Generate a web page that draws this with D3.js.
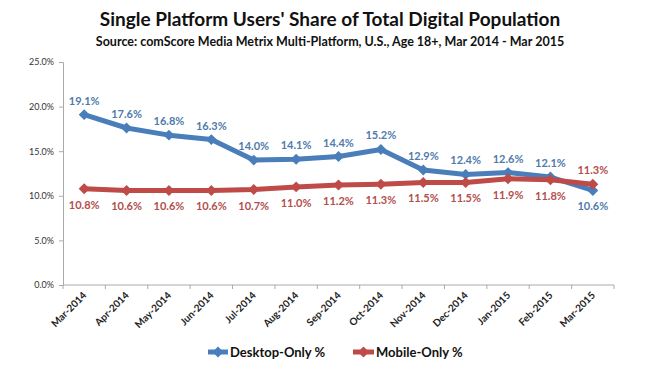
<!DOCTYPE html>
<html><head><meta charset="utf-8">
<script src="https://cdn.jsdelivr.net/npm/d3@7"></script>
<style>body{margin:0;background:#fff;} svg{display:block;font-family:Lato, "Open Sans", sans-serif;}</style>
</head><body>
<svg id="c" width="655" height="368"></svg>
<script>
const months = ["Mar-2014","Apr-2014","May-2014","Jun-2014","Jul-2014","Aug-2014","Sep-2014","Oct-2014","Nov-2014","Dec-2014","Jan-2015","Feb-2015","Mar-2015"];
const desktopOnly = [19.1,17.6,16.8,16.3,14.0,14.1,14.4,15.2,12.9,12.4,12.6,12.1,10.6];
const mobileOnly = [10.8,10.6,10.6,10.6,10.7,11.0,11.2,11.3,11.5,11.5,11.9,11.8,11.3];
const yTicks = [0,5,10,15,20,25];
const seriesNames = ["Desktop-Only %","Mobile-Only %"];
const titleText = "Single Platform Users' Share of Total Digital Population";
const subtitleText = "Source: comScore Media Metrix Multi-Platform, U.S., Age 18+, Mar 2014 - Mar 2015";

const svg = d3.select("#c");
const x = d3.scaleBand().domain(months).range([63, 614]).padding(0);
const y = d3.scaleLinear().domain([0,25]).range([285, 62]);
const colors = ["#4a7ebb","#be4b48"];
const labelColors = ["#4f7bab","#b24f4c"];

svg.append("text").attr("x",330).attr("y",26).attr("text-anchor","middle")
  .attr("font-size",19).attr("font-weight",700).attr("fill","#111").text(titleText);
svg.append("text").attr("x",330).attr("y",46).attr("text-anchor","middle")
  .attr("font-size",12.5).attr("font-weight",700).attr("fill","#111").text(subtitleText);

// y axis
const ya = svg.append("g").attr("transform","translate(63,0)")
  .call(d3.axisLeft(y).tickValues(yTicks).tickSize(4).tickFormat(d=>d.toFixed(1)+"%"));
ya.select(".domain").attr("stroke","#aaa");
ya.selectAll(".tick line").attr("stroke","#aaa");
ya.selectAll(".tick text").attr("font-size",9).attr("fill","#333").attr("font-family","Lato, sans-serif").attr("x",-9);

// x axis
const xa = svg.append("g").attr("transform","translate(0,285)");
xa.append("line").attr("x1",63).attr("x2",614).attr("stroke","#aaa");
const bounds = months.map(m=>x(m)).concat([x(months[months.length-1])+x.bandwidth()]);
xa.selectAll("line.t").data(bounds).enter().append("line").attr("class","t")
  .attr("x1",d=>d).attr("x2",d=>d).attr("y1",0).attr("y2",4).attr("stroke","#aaa");
xa.selectAll("text").data(months).enter().append("text")
  .attr("transform",d=>`translate(${x(d)+x.bandwidth()/2+3},${11}) rotate(-45)`)
  .attr("text-anchor","end").attr("font-size",10).attr("font-weight",700).attr("fill","#222")
  .text(d=>d);

const cx = d=>x(d)+x.bandwidth()/2;
const line = d3.line().x((d,i)=>cx(months[i])).y(d=>y(d));
const diamond = d3.symbol().type(d3.symbolSquare).size(60);

[desktopOnly, mobileOnly].forEach((vals,s)=>{
  svg.append("path").datum(vals).attr("d",line).attr("fill","none")
    .attr("stroke",colors[s]).attr("stroke-width",5).attr("stroke-linejoin","round");
  svg.selectAll("path.m"+s).data(vals).enter().append("path").attr("class","m"+s)
    .attr("d",diamond).attr("fill",colors[s])
    .attr("transform",(d,i)=>`translate(${cx(months[i])},${y(d)}) rotate(45)`);
});
// labels
const other = [mobileOnly, desktopOnly];
[desktopOnly, mobileOnly].forEach((vals,s)=>{
  svg.selectAll("text.l"+s).data(vals).enter().append("text").attr("class","l"+s)
    .attr("x",(d,i)=>cx(months[i]))
    .attr("y",(d,i)=>{
      const above = d >= other[s][i];
      return above ? y(d)-10 : y(d)+20;
    })
    .attr("text-anchor","middle").attr("font-size",11).attr("font-weight",700)
    .attr("fill",labelColors[s]).text(d=>d.toFixed(1)+"%");
});

// legend
const leg = [[208,230],[353,376]];
seriesNames.forEach((n,s)=>{
  const g = svg.append("g");
  g.append("line").attr("x1",leg[s][0]).attr("x2",leg[s][1]-2).attr("y1",352).attr("y2",352)
    .attr("stroke",colors[s]).attr("stroke-width",5);
  g.append("path").attr("d",diamond).attr("fill",colors[s])
    .attr("transform",`translate(${(leg[s][0]+leg[s][1]-2)/2},352) rotate(45)`);
  g.append("text").attr("x",leg[s][1]).attr("y",356.5).attr("font-size",13).attr("font-weight",700)
    .attr("fill","#111").text(n);
});
</script>
</body></html>
